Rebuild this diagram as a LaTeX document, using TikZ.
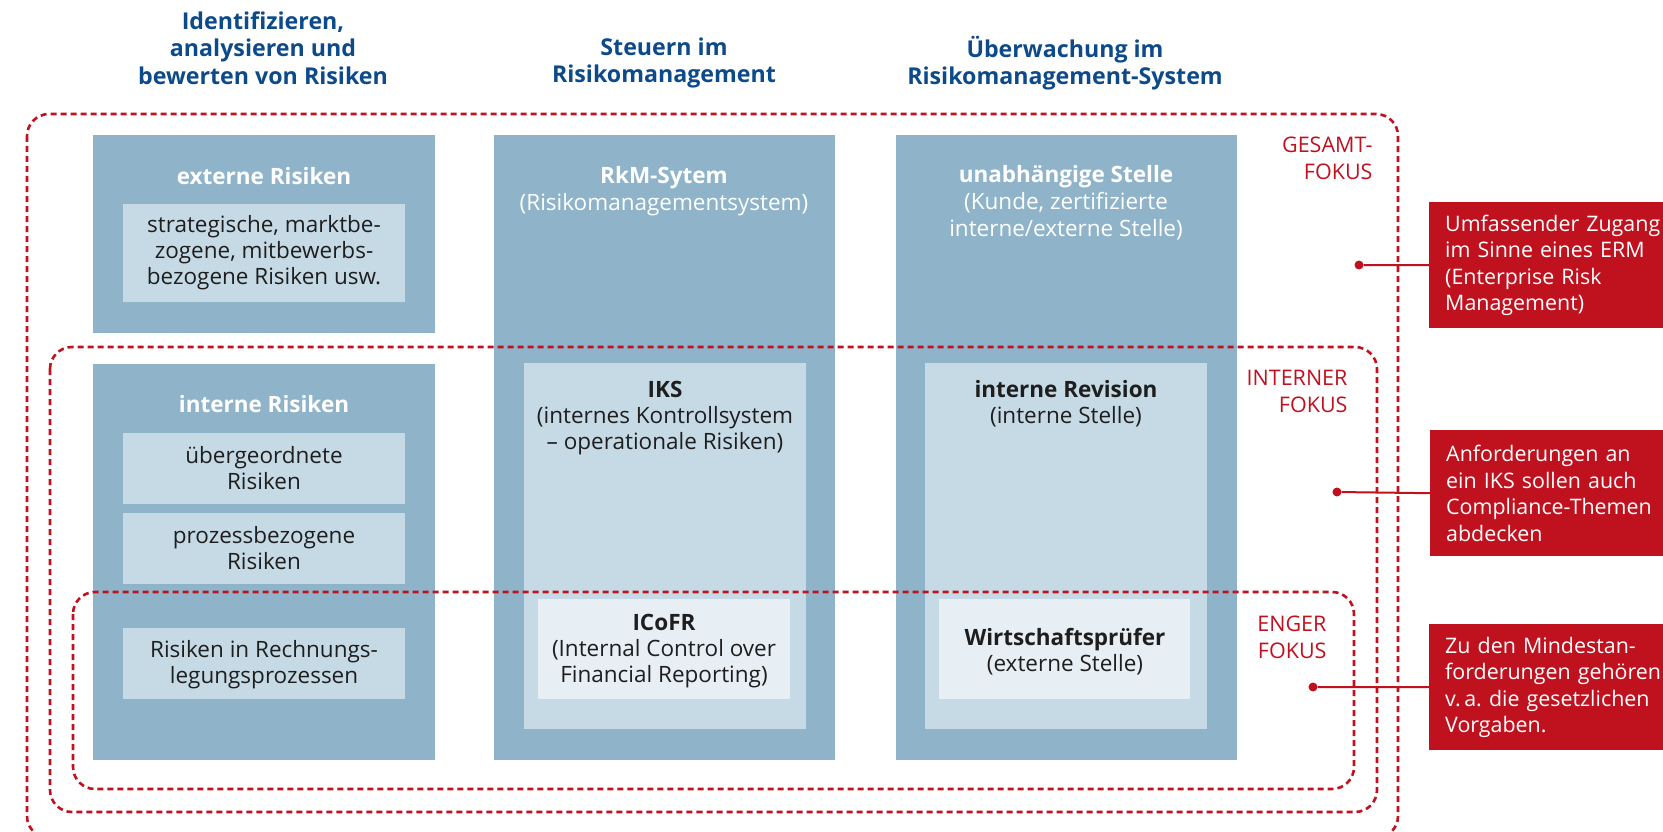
\documentclass[tikz,border=0pt]{standalone}
\usepackage{fontspec}
\setmainfont{Open Sans}
\usepackage{tikz}
\definecolor{boxblue}{HTML}{8FB4CA}
\definecolor{boxlight}{HTML}{C6DAE5}
\definecolor{boxpale}{HTML}{E7EEF4}
\definecolor{headblue}{HTML}{0D4A8A}
\definecolor{fokusred}{HTML}{C0111F}
\definecolor{textdark}{HTML}{1E1E1E}

\begin{document}
\begin{tikzpicture}[x=1pt,y=-1pt]
\tikzstyle{colbox}=[fill=boxblue,anchor=north west,inner sep=0pt]
\tikzstyle{subbox}=[fill=boxlight,anchor=north west,inner sep=0pt]
\tikzstyle{palebox}=[fill=boxpale,anchor=north west,inner sep=0pt]
\tikzstyle{headline}=[text=headblue,font=\fontsize{23.2}{27.6}\selectfont\bfseries,align=center]
\tikzstyle{colhead}=[text=white,font=\fontsize{22.5}{27}\selectfont,align=center]
\tikzstyle{boxtext}=[text=textdark,font=\fontsize{22.5}{26}\selectfont,align=center]
\tikzstyle{fokuslabel}=[text=fokusred,font=\fontsize{21.5}{27}\selectfont,align=right,anchor=east]
\tikzstyle{fokusline}=[draw=fokusred,line width=2.6pt,dash pattern=on 6pt off 4pt,rounded corners=22pt]
\tikzstyle{callout}=[fill=fokusred,text=white,anchor=north west,align=left,font=\fontsize{21.4}{26.5}\selectfont,text width=260pt,minimum height=126pt,inner xsep=16pt]
\tikzstyle{calldot}=[circle,fill=fokusred,inner sep=0pt,minimum size=9pt]
\tikzstyle{conn}=[draw=fokusred,line width=2pt]

\useasboundingbox (0,0) rectangle (1663,832);

\node[headline] (head1) at (263,48) {Identifizieren,\\analysieren und\\bewerten von Risiken};
\node[headline] (head2) at (664,63) {Steuern im\\Risikomanagement};
\node[headline] (head3) at (1065,63) {Überwachung im\\Risikomanagement-System};

\node[colbox,minimum width=342pt,minimum height=198pt] (extbox) at (93,135) {};
\node[colbox,minimum width=342pt,minimum height=396pt] (intbox) at (93,364) {};
\node[colbox,minimum width=341pt,minimum height=625pt] (rkmbox) at (494,135) {};
\node[colbox,minimum width=341pt,minimum height=625pt] (ueberbox) at (896,135) {};

\node[subbox,minimum width=282pt,minimum height=98pt] (extsub) at (123,204) {};
\node[subbox,minimum width=282pt,minimum height=71pt] (uebsub) at (123,433) {};
\node[subbox,minimum width=282pt,minimum height=71pt] (prozsub) at (123,513) {};
\node[subbox,minimum width=282pt,minimum height=71pt] (rechsub) at (123,628) {};
\node[subbox,minimum width=282pt,minimum height=366pt] (iksbox) at (524,363) {};
\node[subbox,minimum width=282pt,minimum height=366pt] (revbox) at (925,363) {};
\node[palebox,minimum width=252pt,minimum height=100pt] (icofrbox) at (538,599) {};
\node[palebox,minimum width=251pt,minimum height=100pt] (wpbox) at (939,599) {};

\node[colhead] (exthead) at (264,176) {\textbf{externe Risiken}};
\node[colhead] (inthead) at (264,404) {\textbf{interne Risiken}};
\node[colhead] (rkmhead) at (664,191) {\textbf{RkM-Sytem}\\(Risikomanagementsystem)};
\node[colhead] (ueberhead) at (1066,203) {\textbf{unabhängige Stelle}\\(Kunde, zertifizierte\\interne/externe Stelle)};

\node[boxtext] (exttext) at (264,253) {strategische, marktbe-\\zogene, mitbewerbs-\\bezogene Risiken usw.};
\node[boxtext] (uebtext) at (264,468) {übergeordnete\\Risiken};
\node[boxtext] (proztext) at (264,548) {prozessbezogene\\Risiken};
\node[boxtext] (rechtext) at (264,665) {Risiken in Rechnungs-\\legungsprozessen};
\node[boxtext] (ikstext) at (665,418) {\textbf{IKS}\\(internes Kontrollsystem\\– operationale Risiken)};
\node[boxtext] (revtext) at (1066,404) {\textbf{interne Revision}\\(interne Stelle)};
\node[boxtext] (icofrtext) at (664,651) {\textbf{ICoFR}\\(Internal Control over\\Financial Reporting)};
\node[boxtext] (wptext) at (1065,652) {\textbf{Wirtschaftsprüfer}\\(externe Stelle)};

\draw[fokusline] (27,114) rectangle (1398,838);
\draw[fokusline] (50,347) rectangle (1377,812);
\draw[fokusline] (73,592) rectangle (1354,789);

\node[fokuslabel] (gesamt) at (1376,158) {GESAMT-\\FOKUS};
\node[fokuslabel] (intern) at (1351,391) {INTERNER\\FOKUS};
\node[fokuslabel] (enger) at (1330,637) {ENGER\\FOKUS};

\node[callout] (call1) at (1429,202) {Umfassender Zugang\\im Sinne eines ERM\\(Enterprise Risk\\Management)};
\node[callout] (call2) at (1430,430) {Anforderungen an\\ein IKS sollen auch\\Compliance-Themen\\abdecken};
\node[callout] (call3) at (1429,624) {Zu den Mindestan-\\forderungen gehören\\v.\,a.\ die gesetzlichen\\Vorgaben.};

\node[calldot] (dot1) at (1359,265) {};
\node[calldot] (dot2) at (1337,492) {};
\node[calldot] (dot3) at (1313,687) {};

\draw[conn] (dot1) -- (call1.west);
\draw[conn] (dot2) -- (call2.west);
\draw[conn] (dot3) -- (call3.west);
\end{tikzpicture}
\end{document}
